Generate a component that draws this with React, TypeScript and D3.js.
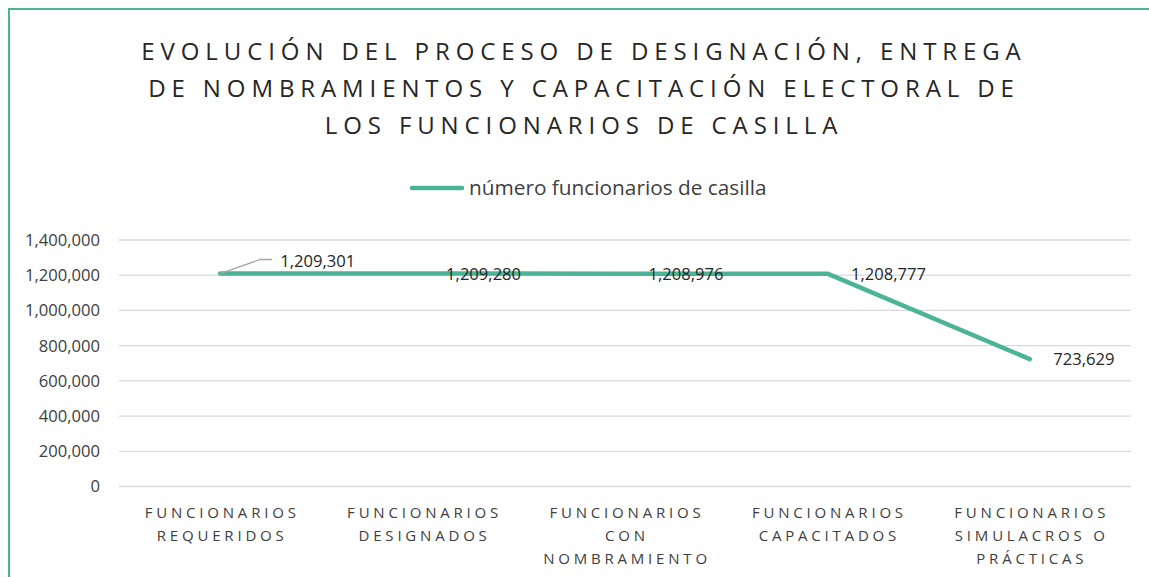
import React from "react";
import * as d3 from "d3";

const categories: string[][] = [
  ["FUNCIONARIOS", "REQUERIDOS"],
  ["FUNCIONARIOS", "DESIGNADOS"],
  ["FUNCIONARIOS", "CON", "NOMBRAMIENTO"],
  ["FUNCIONARIOS", "CAPACITADOS"],
  ["FUNCIONARIOS", "SIMULACROS O", "PRÁCTICAS"],
];
const values: number[] = [1209301, 1209280, 1208976, 1208777, 723629];
const yTicks: number[] = [0, 200000, 400000, 600000, 800000, 1000000, 1200000, 1400000];
const titleLines: string[] = [
  "EVOLUCIÓN DEL PROCESO DE DESIGNACIÓN, ENTREGA",
  "DE NOMBRAMIENTOS Y CAPACITACIÓN ELECTORAL DE",
  "LOS FUNCIONARIOS DE CASILLA",
];
const seriesName = "número funcionarios de casilla";

const W = 1149;
const H = 577;
const LINE = "#4bb497";
const FONT = "'Open Sans', sans-serif";

export default function App() {
  const x = d3
    .scaleBand<number>()
    .domain(categories.map((_, i) => i))
    .range([119, 1131]);
  const y = d3.scaleLinear().domain([0, 1400000]).range([486.5, 240]);
  const cx = (i: number) => (x(i) as number) + x.bandwidth() / 2;
  const fmt = d3.format(",");
  const line = d3
    .line<number>()
    .x((_, i) => cx(i))
    .y((d) => y(d));

  const p0x = cx(0);
  const p0y = y(values[0]);
  const l0x = p0x + 60;
  const l0y = p0y - 12.6;

  return (
    <svg
      width={W}
      height={H}
      style={{ position: "absolute", left: 0, top: 0 }}
      fontFamily={FONT}
    >
      <rect x={0} y={0} width={W} height={H} fill="#ffffff" />
      <rect
        x={9}
        y={9}
        width={1300}
        height={700}
        fill="none"
        stroke={LINE}
        strokeWidth={2}
      />
      {titleLines.map((t, i) => (
        <text
          key={i}
          x={584}
          y={59.5 + i * 37.2}
          textAnchor="middle"
          fontSize={24}
          letterSpacing={5.9}
          fill="#262626"
        >
          {t}
        </text>
      ))}
      {/* legend */}
      <line
        x1={412}
        x2={462}
        y1={188}
        y2={188}
        stroke={LINE}
        strokeWidth={4.5}
        strokeLinecap="round"
      />
      <text x={469} y={195} fontSize={20.8} fill="#404040">
        {seriesName}
      </text>
      {/* gridlines */}
      {yTicks.map((t) => (
        <g key={t}>
          <line
            x1={119}
            x2={1131}
            y1={y(t)}
            y2={y(t)}
            stroke="#d9d9d9"
            strokeWidth={1.3}
          />
          <text
            x={100}
            y={y(t)}
            dy="0.36em"
            textAnchor="end"
            fontSize={16.6}
            fill="#404040"
          >
            {fmt(t)}
          </text>
        </g>
      ))}
      {/* category labels */}
      {categories.map((lines, i) => (
        <text
          key={i}
          textAnchor="middle"
          fontSize={15}
          letterSpacing={3.8}
          fill="#404040"
        >
          {lines.map((l, j) => (
            <tspan key={j} x={cx(i) + 2} y={517.5 + j * 23}>
              {l}
            </tspan>
          ))}
        </text>
      ))}
      {/* series line */}
      <path
        d={line(values) || ""}
        fill="none"
        stroke={LINE}
        strokeWidth={4.5}
        strokeLinejoin="round"
        strokeLinecap="round"
      />
      {/* leader line for first label */}
      <polyline
        points={`${p0x},${p0y} ${l0x - 20},${l0y - 1.5} ${l0x - 8},${l0y - 1.5}`}
        fill="none"
        stroke="#a6a6a6"
        strokeWidth={1.3}
      />
      {values.map((v, i) => {
        const lx = i === 0 ? l0x : cx(i) + 23.5;
        const ly = i === 0 ? l0y : y(v);
        return (
          <text
            key={i}
            x={lx}
            y={ly}
            dy="0.36em"
            fontSize={16.6}
            fill="#262626"
          >
            {fmt(v)}
          </text>
        );
      })}
    </svg>
  );
}
